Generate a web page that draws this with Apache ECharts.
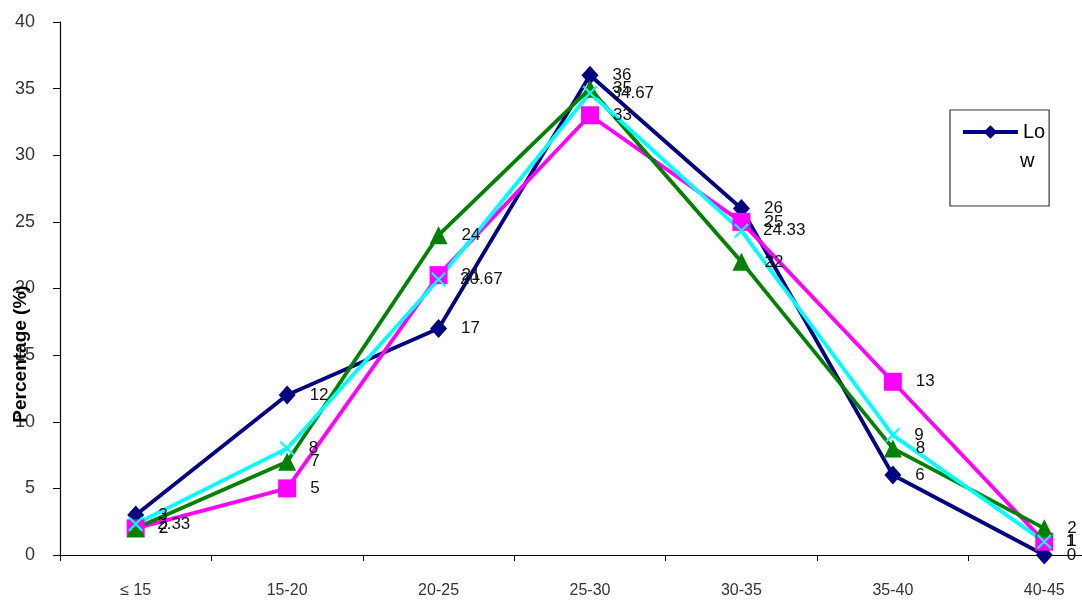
<!DOCTYPE html>
<html><head><meta charset="utf-8">
<script src="https://cdn.jsdelivr.net/npm/echarts@6/dist/echarts.min.js"></script>
<style>html,body{margin:0;padding:0;background:#fff}#c{width:1082px;height:601px}</style>
</head><body><div id="c"></div>
<script>
var categories = ['≤ 15', '15-20', '20-25', '25-30', '30-35', '35-40', '40-45'];
var low = [3, 12, 17, 36, 26, 6, 0];
var magentaSeries = [2, 5, 21, 33, 25, 13, 1];
var greenSeries = [2, 7, 24, 35, 22, 8, 2];
var cyanSeries = [2.33, 8, 20.67, 34.67, 24.33, 9, 1];
var yTicks = [0, 5, 10, 15, 20, 25, 30, 35, 40];
var yTitle = 'Percentage (%)';

var font = 'Liberation Sans, Arial, sans-serif';
var xPath = 'path://M0,1L1,0L5,4L9,0L10,1L6,5L10,9L9,10L5,6L1,10L0,9L4,5Z';
function mk(name, data, color, symbol, size) {
  return {
    name: name, type: 'line', data: data, symbol: symbol, symbolSize: size,
    lineStyle: {color: color, width: 3.8}, itemStyle: {color: color},
    label: {show: true, position: 'right', distance: 14, color: '#111', fontSize: 17, fontFamily: font},
    z: 2
  };
}
var chart = echarts.init(document.getElementById('c'), null, {renderer: 'canvas'});
chart.setOption({
  animation: false,
  backgroundColor: '#fff',
  grid: {left: 60, top: 22, width: 1060, height: 533, outerBoundsMode: 'none', containLabel: false},
  legend: {
    data: ['Low'], left: 950, top: 110, orient: 'vertical',
    itemWidth: 55, itemHeight: 17,
    lineStyle: {width: 3.8, color: '#000080'},
    formatter: function () { return 'Lo'; },
    textStyle: {fontSize: 20, fontFamily: font, color: '#000'},
    borderColor: '#333', borderWidth: 1.2, padding: [12, 4, 64, 11], backgroundColor: '#fff'
  },
  graphic: [{
    type: 'text', left: 1020, top: 151, z: 100,
    style: {text: 'w', fontSize: 20, fontFamily: font, fill: '#000'}
  }, {
    type: 'text', x: 21, y: 354, rotation: Math.PI / 2, z: 100,
    style: {text: yTitle, fontSize: 19, fontWeight: 'bold', fontFamily: font, fill: '#000',
      align: 'center', verticalAlign: 'middle'}
  }],
  xAxis: {
    type: 'category', data: categories, boundaryGap: true,
    axisLine: {lineStyle: {color: '#000', width: 1.2}},
    axisTick: {show: true, inside: false, length: 6, lineStyle: {color: '#000'}},
    axisLabel: {color: '#333', fontSize: 16, fontFamily: font, margin: 28}
  },
  yAxis: {
    type: 'value', min: 0, max: 40, interval: 5,
    axisLine: {show: true, lineStyle: {color: '#000', width: 1.2}},
    axisTick: {show: true, length: 7, lineStyle: {color: '#000'}},
    splitLine: {show: false},
    axisLabel: {color: '#333', fontSize: 18, fontFamily: font, margin: 25,
      formatter: function (v) { return yTicks.indexOf(v) >= 0 ? String(v) : ''; }}
  },
  series: [
    mk('Low', low, '#000080', 'diamond', [17, 19]),
    mk('Series2', magentaSeries, '#FF00FF', 'rect', 18),
    mk('Series3', greenSeries, '#008000', 'triangle', 18),
    mk('Series4', cyanSeries, '#00FFFF', xPath, 15)
  ]
});
</script>
</body></html>
